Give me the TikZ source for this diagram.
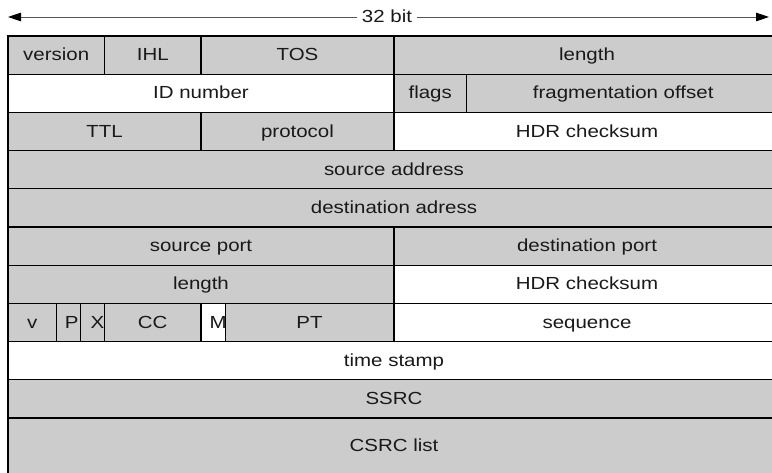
\documentclass[tikz,border=0pt]{standalone}
\usepackage{fontspec}
\setmainfont{Liberation Sans}[FakeStretch=1.17]
\usetikzlibrary{arrows.meta}
\definecolor{fieldgray}{HTML}{CCCCCC}
\definecolor{dimgray}{HTML}{555555}
\tikzset{
  field/.style={draw=black, line width=1.1pt, minimum height=38.2pt, inner sep=0pt,
    outer sep=0pt, anchor=north west, text=black!90, font=\fontsize{17.5}{20}\selectfont,
    text height=15pt, text depth=3.6pt},
  grayf/.style={field, fill=fieldgray},
  whitef/.style={field, fill=white},
  dimline/.style={draw=dimgray, line width=0.8pt,
    -{Triangle[length=13pt, width=8.5pt, color=black]}},
  dimlabel/.style={inner xsep=5pt, inner ysep=0pt, text=black!90, font=\fontsize{17.5}{20}\selectfont,
    text height=15pt, text depth=3.6pt}
}
\newcommand\fld[6]{%
  \pgfmathsetmacro\fldw{(#5-#4)*24.125}%
  \pgfmathsetmacro\fldx{8+24.125*#4}%
  \pgfmathsetmacro\fldy{36+38.2*#3}%
  \node[#2, minimum width=\fldw pt] (#1) at (\fldx,\fldy) {#6};}
\newcommand\shifted[2]{\makebox[0pt]{\hspace{#1}#2}}
\begin{document}
\begin{tikzpicture}[x=1pt, y=-1pt]
  \clip (0,0) rectangle (772,473);
  \useasboundingbox (0,0) rectangle (772,473);
  % header arrow
  \node[dimlabel] (lbl) at (387,16.5) {32 bit};
  \coordinate (la) at (8,17);
  \coordinate (ra) at (769,17);
  \draw[dimline] (lbl.west |- la) -- (la);
  \draw[dimline] (lbl.east |- ra) -- (ra);
  % row 0
  \fld{ver}{grayf}{0}{0}{4}{version}
  \fld{ihl}{grayf}{0}{4}{8}{IHL}
  \fld{tos}{grayf}{0}{8}{16}{TOS}
  \fld{len}{grayf}{0}{16}{32}{length}
  % row 1
  \fld{idn}{whitef}{1}{0}{16}{ID number}
  \fld{flg}{grayf}{1}{16}{19}{flags}
  \fld{frg}{grayf}{1}{19}{32}{fragmentation offset}
  % row 2
  \fld{ttl}{grayf}{2}{0}{8}{TTL}
  \fld{pro}{grayf}{2}{8}{16}{protocol}
  \fld{hcs}{whitef}{2}{16}{32}{HDR checksum}
  % row 3-4
  \fld{src}{grayf}{3}{0}{32}{source address}
  \fld{dst}{grayf}{4}{0}{32}{destination adress}
  % row 5
  \fld{spt}{grayf}{5}{0}{16}{source port}
  \fld{dpt}{grayf}{5}{16}{32}{destination port}
  % row 6
  \fld{ulen}{grayf}{6}{0}{16}{length}
  \fld{ucs}{whitef}{6}{16}{32}{HDR checksum}
  % row 7
  \fld{rv}{grayf}{7}{0}{2}{v}
  \fld{rp}{grayf}{7}{2}{3}{\shifted{7pt}{P}}
  \fld{rx}{grayf}{7}{3}{4}{\shifted{10pt}{X}}
  \fld{rcc}{grayf}{7}{4}{8}{CC}
  \fld{rm}{whitef}{7}{8}{9}{\shifted{10pt}{M}}
  \fld{rpt}{grayf}{7}{9}{16}{PT}
  \fld{seq}{whitef}{7}{16}{32}{sequence}
  % rows 8-10
  \fld{ts}{whitef}{8}{0}{32}{time stamp}
  \fld{ssrc}{grayf}{9}{0}{32}{SSRC}
  \fld{csrc}{grayf, minimum height=56.5pt}{10}{0}{32}{CSRC list}
\end{tikzpicture}
\end{document}
